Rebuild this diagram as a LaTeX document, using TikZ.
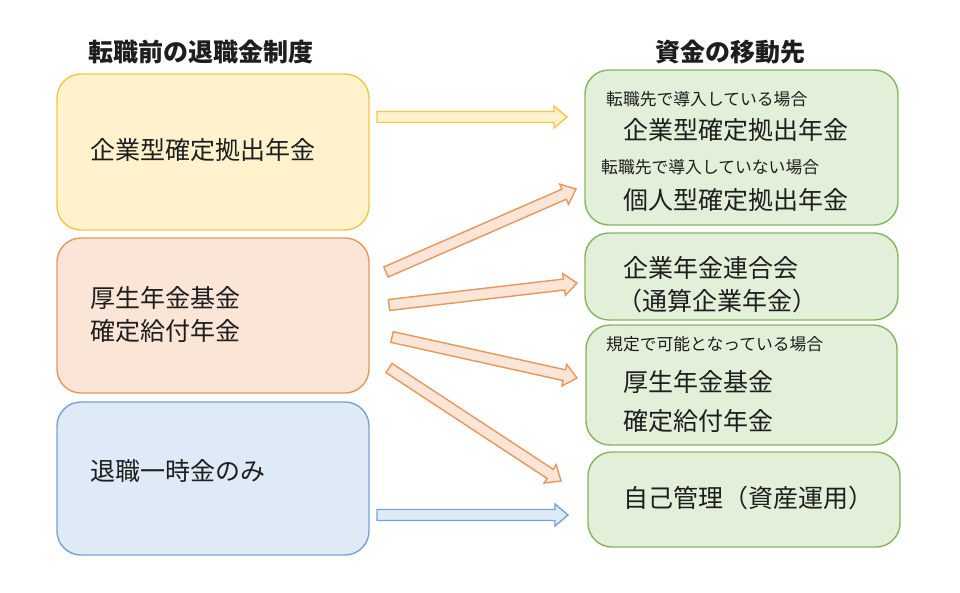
\documentclass[tikz,border=0pt]{standalone}
\usepackage{fontspec}
\setmainfont{Noto Sans CJK JP}
\usetikzlibrary{calc}
\definecolor{yfill}{HTML}{FFF2CC}
\definecolor{ydraw}{HTML}{F2C744}
\definecolor{ofill}{HTML}{FBE5D6}
\definecolor{odraw}{HTML}{E8975C}
\definecolor{bfill}{HTML}{DEEBF7}
\definecolor{bdraw}{HTML}{76A3D4}
\definecolor{gfill}{HTML}{E2F0D9}
\definecolor{gdraw}{HTML}{82B65E}
\definecolor{txt}{HTML}{1E1E1E}
\newcommand\blockarrow[3]{%
  \coordinate (hh) at ($(#2)!13pt!(#1)$);
  \draw[#3] ($(#1)!5.5pt!90:(#2)$) -- ($(hh)!5.5pt!-90:(#1)$) -- ($(hh)!11pt!-90:(#1)$) -- (#2)
    -- ($(hh)!11pt!90:(#1)$) -- ($(hh)!5.5pt!90:(#1)$) -- ($(#1)!5.5pt!-90:(#2)$) -- cycle;}
\tikzset{
  box/.style={rounded corners=24pt, line width=1.4pt, inner sep=0pt},
  ybox/.style={box, draw=ydraw, fill=yfill},
  obox/.style={box, draw=odraw, fill=ofill},
  bbox/.style={box, draw=bdraw, fill=bfill},
  gbox/.style={box, draw=gdraw, fill=gfill},
  big/.style={anchor=west, inner sep=0pt, text=txt, font=\fontsize{25}{30}\selectfont},
  small/.style={anchor=west, inner sep=0pt, text=txt, font=\fontsize{16.8}{20}\selectfont},
  title/.style={inner sep=0pt, text=txt, font=\fontsize{25}{30}\selectfont\bfseries},
  yarr/.style={line width=1.4pt, draw=ydraw, fill=yfill, line join=miter},
  oarr/.style={line width=1.4pt, draw=odraw, fill=ofill, line join=miter},
  barr/.style={line width=1.4pt, draw=bdraw, fill=bfill, line join=miter},
}
\begin{document}
\begin{tikzpicture}[x=1pt, y=-1pt]
\useasboundingbox (0,0) rectangle (960,592);
% titles
\node[title] (t1) at (200.5,52) {転職前の退職金制度};
\node[title] (t2) at (730,52) {資金の移動先};
% left boxes
\node[ybox, minimum width=312pt, minimum height=156pt] (ya) at (213,152) {};
\node[obox, minimum width=312pt, minimum height=155pt] (ob) at (213,315.5) {};
\node[bbox, minimum width=312pt, minimum height=153pt] (bc) at (213,478.5) {};
\node[big] (ytxt) at (90,150) {企業型確定拠出年金};
\node[big] (otxt1) at (90,298) {厚生年金基金};
\node[big] (otxt2) at (90,331) {確定給付年金};
\node[big] (btxt) at (90,471) {退職一時金のみ};
% right boxes
\node[gbox, minimum width=313pt, minimum height=155pt] (g1) at (741.5,147.5) {};
\node[gbox, minimum width=313pt, minimum height=87pt] (g2) at (741.5,276.5) {};
\node[gbox, minimum width=311pt, minimum height=120pt] (g3) at (741.5,385) {};
\node[gbox, minimum width=312pt, minimum height=95pt] (g4) at (744,499.5) {};
\node[small] (s1) at (606,99) {転職先で導入している場合};
\node[big] (r1) at (623,130) {企業型確定拠出年金};
\node[small] (s2) at (601,167) {転職先で導入していない場合};
\node[big] (r2) at (623,200) {個人型確定拠出年金};
\node[big] (r3) at (623,268) {企業年金連合会};
\node[big] (r4) at (617,301) {（通算企業年金）};
\node[small] (s3) at (606,344) {規定で可能となっている場合};
\node[big] (r5) at (623,382) {厚生年金基金};
\node[big] (r6) at (623,421) {確定給付年金};
\node[big] (r7) at (623,498) {自己管理（資産運用）};
% arrow end points
\coordinate (a1s) at (377,117); \coordinate (a1e) at (567,117);
\coordinate (a2s) at (386,272); \coordinate (a2e) at (576,189);
\coordinate (a3s) at (389,305); \coordinate (a3e) at (577,283);
\coordinate (a4s) at (392,337); \coordinate (a4e) at (577,378);
\coordinate (a5s) at (389,368); \coordinate (a5e) at (561,481);
\coordinate (a6s) at (377,515); \coordinate (a6e) at (568,515);
\blockarrow{a1s}{a1e}{yarr}
\blockarrow{a2s}{a2e}{oarr}
\blockarrow{a3s}{a3e}{oarr}
\blockarrow{a4s}{a4e}{oarr}
\blockarrow{a5s}{a5e}{oarr}
\blockarrow{a6s}{a6e}{barr}
\end{tikzpicture}
\end{document}
